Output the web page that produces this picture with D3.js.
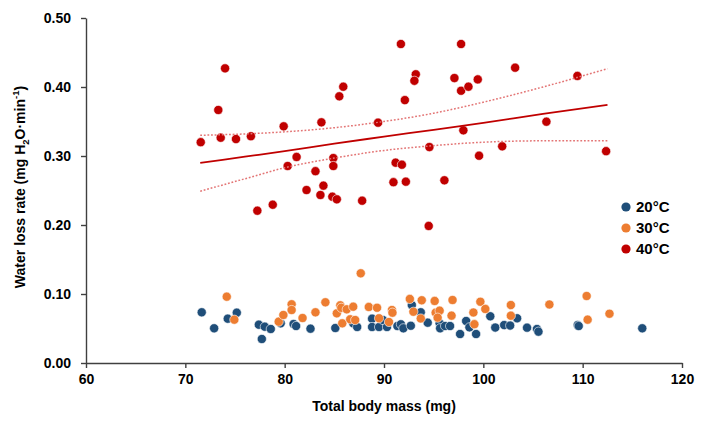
<!DOCTYPE html>
<html>
<head>
<meta charset="utf-8">
<script src="https://cdn.jsdelivr.net/npm/d3@7"></script>
<style>
  body { margin: 0; background: #fff; }
  svg { display: block; font-family: "Liberation Sans", Arial, sans-serif; }
</style>
</head>
<body>
<svg id="chart" width="705" height="421"></svg>
<script>
// ---- data ----
const seriesNames = ["20°C", "30°C", "40°C"];
const seriesColors = ["#1F4E79", "#ED7D31", "#C00000"];

const mass20 = [71.65,72.9,74.27,75.18,77.4,78.0,78.6,77.7,79.6,80.9,81.15,82.6,85.1,86.9,87.3,88.8,88.8,89.5,89.9,90.3,91.35,91.7,91.95,92.7,92.8,93.7,94.4,95.6,95.65,96.15,96.65,97.66,98.27,98.6,99.27,100.7,101.2,102.1,102.7,103.4,104.4,105.4,105.55,109.5,109.6,116.0];
const rate20 = [0.0735,0.0503,0.0642,0.0729,0.0555,0.0526,0.0493,0.0348,0.0575,0.0565,0.0536,0.0497,0.0507,0.0575,0.0522,0.0642,0.0522,0.0522,0.0623,0.0522,0.0536,0.0561,0.0503,0.054,0.084,0.0735,0.0584,0.0575,0.0503,0.0536,0.0536,0.042,0.0609,0.0517,0.042,0.0677,0.0514,0.055,0.0543,0.0648,0.0512,0.0493,0.0454,0.0551,0.0536,0.0503];

const mass30 = [74.17,74.93,79.4,79.87,80.7,80.7,81.8,83.1,84.1,85.25,85.6,85.7,86.25,86.9,85.8,86.6,87.1,87.66,88.47,89.3,89.5,90.5,90.8,90.85,92.6,92.96,93.8,93.7,95.1,95.2,95.6,95.4,96.9,96.8,99.0,99.1,99.7,100.2,102.77,102.77,106.65,110.4,110.5,112.7];
const rate30 = [0.0961,0.0628,0.0599,0.0696,0.0851,0.0768,0.0652,0.0735,0.088,0.072,0.0836,0.080,0.0778,0.0816,0.0575,0.0633,0.0623,0.130,0.0812,0.0801,0.0648,0.0594,0.0768,0.0729,0.0928,0.0743,0.0909,0.0645,0.0899,0.0729,0.0758,0.0657,0.0913,0.0686,0.0732,0.0562,0.0888,0.0783,0.084,0.0686,0.0848,0.0971,0.0628,0.0714];

const mass40 = [71.55,73.32,74.0,73.56,75.1,76.6,79.9,77.25,78.8,80.3,81.2,82.2,83.1,83.7,83.6,83.9,84.8,85.25,84.9,84.9,85.5,85.9,87.8,89.4,90.95,91.17,91.8,91.7,97.76,93.2,93.06,92.1,92.2,94.57,96.08,97.09,97.76,98.5,99.44,97.99,99.57,101.9,103.2,106.35,109.47,112.36,94.5];
const rate40 = [0.320,0.3667,0.427,0.3265,0.3246,0.3286,0.343,0.2207,0.2294,0.2855,0.2986,0.2507,0.278,0.3488,0.2435,0.257,0.241,0.2372,0.297,0.2855,0.3865,0.4004,0.2352,0.3483,0.262,0.2903,0.2874,0.4623,0.4623,0.4184,0.409,0.381,0.2628,0.313,0.2648,0.413,0.3946,0.4004,0.411,0.3372,0.3004,0.314,0.428,0.3497,0.416,0.307,0.1986];

// 40°C regression line and its confidence band, read at these masses
const bandMass  = [71.5, 76, 80, 85, 90, 95, 100, 106, 112.5];
const fitRate   = [0.290, 0.299, 0.307, 0.318, 0.328, 0.338, 0.348, 0.361, 0.374];
const upperRate = [0.330, 0.332, 0.335, 0.341, 0.350, 0.362, 0.378, 0.400, 0.4265];
const lowerRate = [0.249, 0.267, 0.283, 0.297, 0.308, 0.315, 0.320, 0.322, 0.322];

const xTicks = [60, 70, 80, 90, 100, 110, 120];
const yTicks = [0, 0.1, 0.2, 0.3, 0.4, 0.5];

// ---- drawing ----
const svg = d3.select("#chart");
const x = d3.scaleLinear().domain([60, 120]).range([86, 682]);
const y = d3.scaleLinear().domain([0, 0.5]).range([363, 18]);
const axisColor = "#404040";

const series = [
  { name: seriesNames[0], color: seriesColors[0], xs: mass20, ys: rate20 },
  { name: seriesNames[1], color: seriesColors[1], xs: mass30, ys: rate30 },
  { name: seriesNames[2], color: seriesColors[2], xs: mass40, ys: rate40 }
];

// axes
const gx = svg.append("g").attr("transform", `translate(0,${y(0)})`)
  .call(d3.axisBottom(x).tickValues(xTicks).tickFormat(d3.format("d")).tickSizeOuter(0).tickSizeInner(5).tickPadding(6));
const gy = svg.append("g").attr("transform", `translate(${x(60)},0)`)
  .call(d3.axisLeft(y).tickValues(yTicks).tickFormat(d3.format(".2f")).tickSizeOuter(0).tickSizeInner(5).tickPadding(10));
[gx, gy].forEach(g => {
  g.select(".domain").attr("stroke", axisColor).attr("stroke-width", 1.4);
  g.selectAll(".tick line").attr("stroke", axisColor).attr("stroke-width", 1.4);
  g.selectAll(".tick text").attr("fill", "#000").style("font-size", "14px").style("font-weight", "bold")
    .style("font-family", "'Liberation Sans', Arial, sans-serif");
});

// points
series.forEach(s => {
  svg.append("g").selectAll("circle")
    .data(s.xs.map((v, i) => [v, s.ys[i]]))
    .join("circle")
    .attr("cx", d => x(d[0]))
    .attr("cy", d => y(d[1]))
    .attr("r", 4.6)
    .attr("fill", s.color)
    .attr("stroke", "#fff")
    .attr("stroke-width", 0.6);
});

// regression line + confidence band for 40°C
const lineGen = (arr) => d3.line().x((d, i) => x(bandMass[i])).y(d => y(d)).curve(d3.curveMonotoneX)(arr);
svg.append("path").attr("d", lineGen(upperRate)).attr("fill", "none")
  .attr("stroke", "#E37575").attr("stroke-width", 1.5).attr("stroke-dasharray", "1.8,1.8");
svg.append("path").attr("d", lineGen(lowerRate)).attr("fill", "none")
  .attr("stroke", "#E37575").attr("stroke-width", 1.5).attr("stroke-dasharray", "1.8,1.8");
svg.append("path").attr("d", lineGen(fitRate)).attr("fill", "none")
  .attr("stroke", "#C00000").attr("stroke-width", 1.8);

// legend
const legend = svg.append("g");
series.forEach((s, i) => {
  const cy = 207 + i * 21;
  legend.append("circle").attr("cx", 626).attr("cy", cy).attr("r", 4.6).attr("fill", s.color);
  legend.append("text").attr("x", 636).attr("y", cy).attr("dy", "0.36em")
    .style("font-size", "15px").style("font-weight", "bold").text(s.name);
});

// axis titles
svg.append("text").attr("x", (x(60) + x(120)) / 2).attr("y", 411)
  .attr("text-anchor", "middle").style("font-size", "14px").style("font-weight", "bold")
  .text("Total body mass (mg)");

const yt = svg.append("text").attr("transform", "translate(25,187) rotate(-90)")
  .attr("text-anchor", "middle").style("font-size", "14px").style("font-weight", "bold");
yt.append("tspan").text("Water loss rate (mg H");
yt.append("tspan").attr("dy", 4).style("font-size", "9.5px").text("2");
yt.append("tspan").attr("dy", -4).text("O·min");
yt.append("tspan").attr("dy", -6).style("font-size", "9.5px").text("-1");
yt.append("tspan").attr("dy", 6).text(")");
</script>
</body>
</html>
